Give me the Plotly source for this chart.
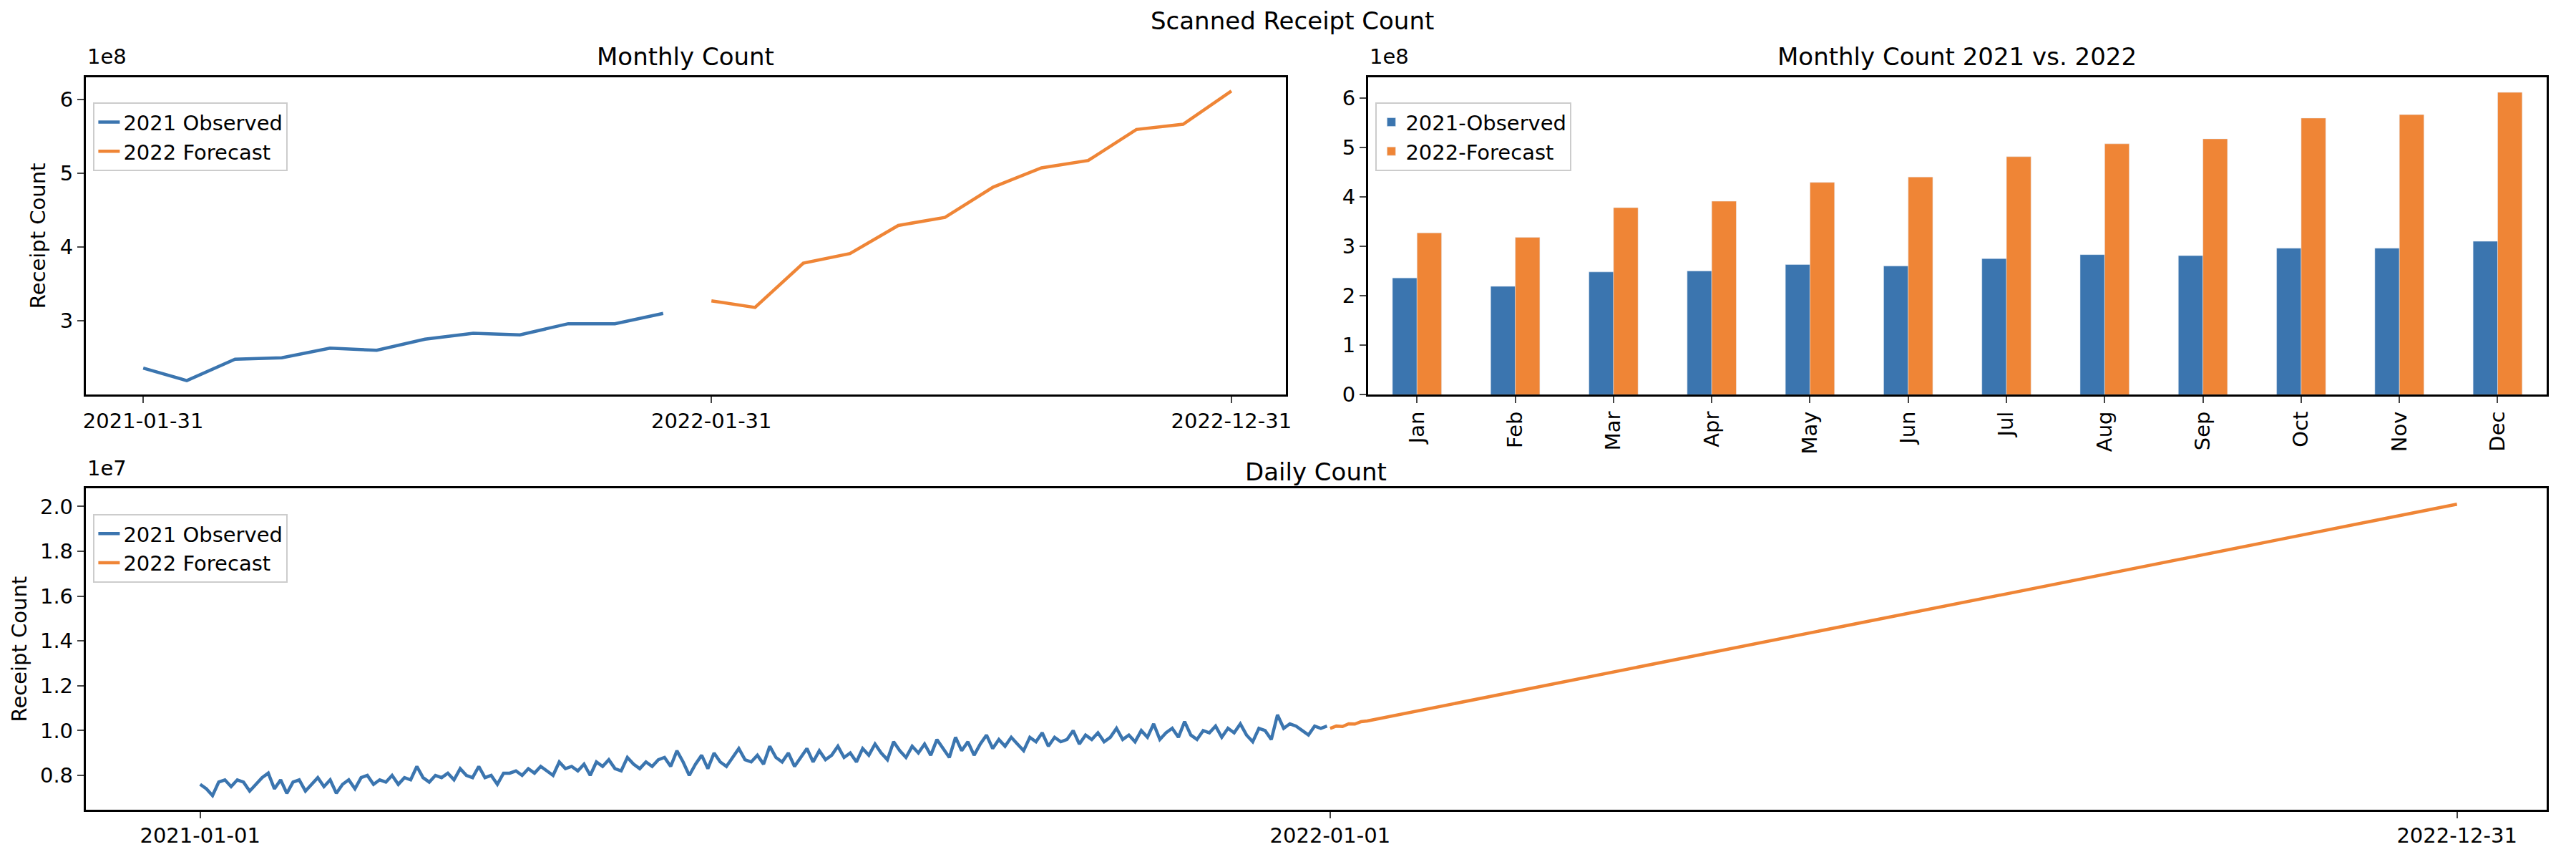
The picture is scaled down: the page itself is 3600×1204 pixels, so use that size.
import pandas as pd
import plotly.graph_objects as go

BLUE = "#3b75af"
ORANGE = "#ef8536"
FONT = "DejaVu Sans"

# monthly totals, in units of 1e8
month_end_2021 = ["2021-01-31", "2021-02-28", "2021-03-31", "2021-04-30", "2021-05-31", "2021-06-30",
                  "2021-07-31", "2021-08-31", "2021-09-30", "2021-10-31", "2021-11-30", "2021-12-31"]
month_end_2022 = ["2022-01-31", "2022-02-28", "2022-03-31", "2022-04-30", "2022-05-31", "2022-06-30",
                  "2022-07-31", "2022-08-31", "2022-09-30", "2022-10-31", "2022-11-30", "2022-12-31"]
monthly_2021 = [2.36, 2.19, 2.48, 2.50, 2.63, 2.60, 2.75, 2.83, 2.81, 2.96, 2.96, 3.10]
monthly_2022 = [3.27, 3.18, 3.78, 3.91, 4.29, 4.40, 4.81, 5.07, 5.17, 5.59, 5.66, 6.11]
month_names = ["Jan", "Feb", "Mar", "Apr", "May", "Jun", "Jul", "Aug", "Sep", "Oct", "Nov", "Dec"]

# daily observed 2021, every second day, in units of 1e5
daily_2021 = [
    76, 74, 71, 77, 78, 75, 78, 77, 73, 76, 79, 81, 74, 78, 72,
    77, 78, 73, 76, 79, 75, 78, 72, 76, 78, 74, 79, 80, 76, 78,
    77, 80, 76, 79, 78, 84, 79, 77, 80, 79, 81, 78, 83, 80, 79,
    84, 79, 80, 76, 81, 81, 82, 80, 83, 81, 84, 82, 80, 86, 83,
    84, 82, 85, 80, 86, 84, 87, 83, 82, 88, 85, 83, 86, 84, 87,
    88, 84, 91, 86, 80, 85, 89, 83, 90, 86, 84, 88, 92, 87, 86,
    89, 85, 93, 88, 86, 90, 84, 88, 92, 86, 91, 87, 89, 93, 88,
    90, 86, 92, 89, 94, 90, 87, 95, 91, 88, 93, 90, 94, 89, 96,
    92, 88, 97, 91, 95, 89, 94, 98, 92, 96, 93, 97, 94, 91, 97,
    95, 99, 93, 97, 95, 96, 100, 94, 98, 96, 99, 95, 97, 101, 96,
    98, 95, 100, 97, 103, 96, 99, 101, 97, 104, 98, 96, 100, 99, 102,
    97, 101, 99, 103, 98, 95, 101, 100, 96, 107, 101, 103, 102, 100, 98, 102, 101, 102,
]
daily_2021_dates = pd.date_range("2021-01-01", periods=len(daily_2021), freq="2D")

# daily forecast 2022, in units of 1e5
forecast_dates = ["2022-01-01", "2022-01-03", "2022-01-05", "2022-01-07", "2022-01-09", "2022-01-11",
                  "2022-01-13", "2022-02-01", "2022-03-01", "2022-04-01", "2022-05-01", "2022-06-01",
                  "2022-07-01", "2022-08-01", "2022-09-01", "2022-10-01", "2022-11-01", "2022-12-01",
                  "2022-12-31"]
forecast_2022 = [101.0, 102.0, 101.8, 103.0, 102.9, 104.0, 104.3, 109.5, 117.2, 125.7, 134.0, 142.5,
                 150.8, 159.3, 167.8, 176.0, 184.5, 192.8, 201.0]

fig = go.Figure()
line_w = 4.5
fig.add_trace(go.Scatter(x=month_end_2021, y=[v * 1e8 for v in monthly_2021], mode="lines",
                         line=dict(color=BLUE, width=line_w), name="2021 Observed", xaxis="x", yaxis="y", legend="legend"))
fig.add_trace(go.Scatter(x=month_end_2022, y=[v * 1e8 for v in monthly_2022], mode="lines",
                         line=dict(color=ORANGE, width=line_w), name="2022 Forecast", xaxis="x", yaxis="y", legend="legend"))
fig.add_trace(go.Bar(x=month_names, y=[v * 1e8 for v in monthly_2021], marker_color=BLUE, name="2021-Observed",
                     xaxis="x2", yaxis="y2", legend="legend2"))
fig.add_trace(go.Bar(x=month_names, y=[v * 1e8 for v in monthly_2022], marker_color=ORANGE, name="2022-Forecast",
                     xaxis="x2", yaxis="y2", legend="legend2"))
fig.add_trace(go.Scatter(x=daily_2021_dates, y=[v * 1e5 for v in daily_2021], mode="lines",
                         line=dict(color=BLUE, width=line_w), name="2021 Observed", xaxis="x3", yaxis="y3", legend="legend3"))
fig.add_trace(go.Scatter(x=forecast_dates, y=[v * 1e5 for v in forecast_2022], mode="lines",
                         line=dict(color=ORANGE, width=line_w), name="2022 Forecast", xaxis="x3", yaxis="y3", legend="legend3"))

FS = 29
axis_common = dict(showline=True, linecolor="black", linewidth=2.5, mirror=True, showgrid=False, zeroline=False,
                   ticks="outside", ticklen=9, tickwidth=2, tickfont=dict(size=FS, family=FONT, color="black"))

L1, R1 = 108 / 3600, 1791 / 3600
L2, R2 = 1906 / 3600, 3559 / 3600
top_dom = [1 - 551 / 1204, 1 - 101 / 1204]
bot_dom = [1 - 1139 / 1204, 1 - 684 / 1204]

legend_common = dict(font=dict(size=FS, family=FONT, color="black"), bgcolor="white", bordercolor="#cccccc",
                     borderwidth=2, xanchor="left", yanchor="top", tracegroupgap=4)

fig.update_layout(
    width=3600, height=1204, plot_bgcolor="white", paper_bgcolor="white",
    margin=dict(l=0, r=0, t=0, b=0), bargap=0.5, barmode="group",
    font=dict(family=FONT, color="black"),
    xaxis=dict(axis_common, domain=[L1, R1], type="date", range=["2020-12-25", "2023-02-04"],
               tickvals=["2021-01-31", "2022-01-31", "2022-12-31"],
               ticktext=["2021-01-31", "2022-01-31", "2022-12-31"], anchor="y"),
    yaxis=dict(axis_common, domain=top_dom, range=[2.0e8, 6.3e8], tickvals=[3e8, 4e8, 5e8, 6e8],
               ticktext=["3", "4", "5", "6"], anchor="x",
               title=dict(text="Receipt Count", font=dict(size=FS, family=FONT), standoff=12)),
    xaxis2=dict(axis_common, domain=[L2, R2], tickangle=-90, anchor="y2", range=[-0.5, 11.5]),
    yaxis2=dict(axis_common, domain=top_dom, range=[0, 6.42e8], tickvals=[i * 1e8 for i in range(7)],
                ticktext=[str(i) for i in range(7)], anchor="x2"),
    xaxis3=dict(axis_common, domain=[L1, R2], type="date", range=["2020-11-25", "2023-01-29"],
                tickvals=["2021-01-01", "2022-01-01", "2022-12-31"],
                ticktext=["2021-01-01", "2022-01-01", "2022-12-31"], anchor="y3"),
    yaxis3=dict(axis_common, domain=bot_dom, range=[0.647e7, 2.08e7], tickvals=[0.8e7, 1.0e7, 1.2e7, 1.4e7, 1.6e7, 1.8e7, 2.0e7],
                ticktext=["0.8", "1.0", "1.2", "1.4", "1.6", "1.8", "2.0"], anchor="x3",
                title=dict(text="Receipt Count", font=dict(size=FS, family=FONT), standoff=10)),
    legend=dict(legend_common, x=L1 + 0.003, y=top_dom[1] - 0.03),
    legend2=dict(legend_common, x=L2 + 0.003, y=top_dom[1] - 0.03),
    legend3=dict(legend_common, x=L1 + 0.003, y=bot_dom[1] - 0.03),
)

ann = [
    dict(text="Scanned Receipt Count", x=0.5, y=1 - 21 / 1204),
    dict(text="Monthly Count", x=(L1 + R1) / 2, y=1 - 72 / 1204),
    dict(text="Monthly Count 2021 vs. 2022", x=(L2 + R2) / 2, y=1 - 72 / 1204),
    dict(text="Daily Count", x=(L1 + R2) / 2, y=1 - 660 / 1204),
]
for a in ann:
    fig.add_annotation(text=a["text"], x=a["x"], y=a["y"], xref="paper", yref="paper", showarrow=False,
                       font=dict(size=34, family=FONT, color="black"), xanchor="center", yanchor="middle")
for x, y, t in [(L1, top_dom[1], "1e8"), (L2, top_dom[1], "1e8"), (L1, bot_dom[1], "1e7")]:
    fig.add_annotation(text=t, x=x, y=y + 0.008, xref="paper", yref="paper", showarrow=False,
                       font=dict(size=FS, family=FONT, color="black"), xanchor="left", yanchor="bottom")

fig.write_html("out.html")
